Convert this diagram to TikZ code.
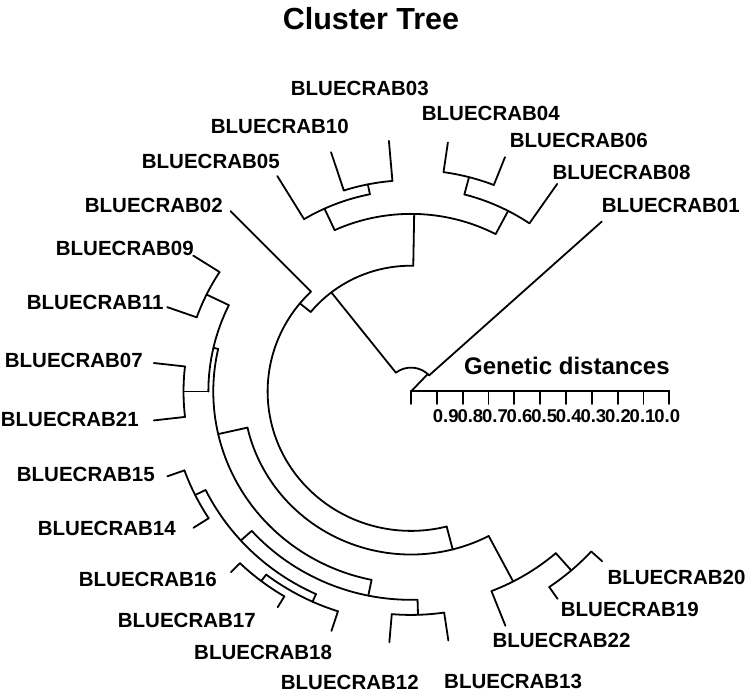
\documentclass[tikz,border=0pt]{standalone}
\usepackage{fontspec}
\setmainfont{Liberation Sans}
\newcommand{\stem}[4]{\draw (#2:#3) -- (#2:#4) coordinate (#1);}
\newcommand{\harc}[3]{\draw (#1:#3) arc[start angle=#1,end angle=#2,radius=#3];}
\begin{document}
\begin{tikzpicture}[x=1pt,y=-1pt,line width=1.8pt,line cap=round,line join=round]
\tikzset{
  lab/.style={inner sep=0pt,anchor=west,font=\fontsize{20.5}{24}\selectfont\bfseries},
  ticklab/.style={inner sep=0pt,anchor=center,font=\fontsize{18.5}{22}\selectfont\bfseries}
}
\useasboundingbox (0,0) rectangle (747,694);
\node[inner sep=0pt,font=\fontsize{30.5}{34}\selectfont\bfseries] (title) at (371,19) {Cluster Tree};
% tree
\begin{scope}[shift={(411,391.5)},x=258.8pt,y=251.6pt]
\coordinate (root) at (0,0);
\draw (root) -- (47:0.095) coordinate (rootk);
\harc{42.5}{128}{0.095}
\stem{t01}{42.5}{0.095}{1}
\stem{nA}{128}{0.095}{0.50}
\harc{89}{140.8}{0.50}
% top clade
\stem{nT}{89}{0.50}{0.706}
\harc{62.4}{114.7}{0.706}
\stem{nTR}{62.4}{0.706}{0.81}
\harc{55.6}{75.25}{0.81}
\stem{t08}{55.6}{0.81}{1}
\stem{nN2}{75.25}{0.81}{0.881}
\harc{68.7}{81.8}{0.881}
\stem{t06}{68.7}{0.881}{1}
\stem{t04}{81.8}{0.881}{1}
\stem{nTL}{114.7}{0.706}{0.80}
\harc{101.45}{121.1}{0.80}
\stem{t05}{121.1}{0.80}{1}
\stem{nN1}{101.45}{0.80}{0.84}
\harc{94.9}{108}{0.84}
\stem{t03}{94.9}{0.84}{1}
\stem{t10}{108}{0.84}{1}
% rest
\stem{nB}{140.8}{0.50}{0.554}
\harc{134.2}{284.4}{0.554}
\stem{t02}{134.2}{0.554}{1}
\stem{nX}{284.4}{0.554}{0.648}
\harc{192.8}{297.6}{0.648}
\stem{nBR}{297.6}{0.648}{0.852}
\harc{291.4}{311.05}{0.852}
\stem{t22}{291.4}{0.852}{1}
\stem{nN14}{311.05}{0.852}{0.943}
\harc{304.5}{317.6}{0.943}
\stem{t19}{304.5}{0.943}{1}
\stem{t20}{317.6}{0.943}{1}
\stem{nN6}{192.8}{0.648}{0.764}
\harc{167.2}{258.5}{0.764}
\stem{nN4}{167.2}{0.764}{0.783}
\harc{154}{180}{0.783}
\stem{nN3}{154}{0.783}{0.879}
\harc{147.3}{160.4}{0.879}
\stem{t09}{147.3}{0.879}{1}
\stem{t11}{160.4}{0.879}{1}
\stem{nN5}{180}{0.783}{0.879}
\harc{173.5}{186.6}{0.879}
\stem{t07}{173.5}{0.879}{1}
\stem{t21}{186.6}{0.879}{1}
\stem{nV}{258.5}{0.764}{0.828}
\harc{222}{271.75}{0.828}
\stem{nN9}{271.75}{0.828}{0.888}
\harc{265.2}{278.3}{0.888}
\stem{t12}{265.2}{0.888}{1}
\stem{t13}{278.3}{0.888}{1}
\stem{nN13}{222}{0.828}{0.885}
\harc{206.25}{245.5}{0.885}
\stem{nN8}{206.25}{0.885}{0.93}
\harc{199.7}{212.8}{0.93}
\stem{t15}{199.7}{0.93}{1}
\stem{t14}{212.8}{0.93}{1}
\stem{nN12}{245.5}{0.885}{0.918}
\harc{232.45}{252.1}{0.918}
\stem{t18}{252.1}{0.918}{1}
\stem{nN11}{232.45}{0.918}{0.95}
\harc{225.9}{239}{0.95}
\stem{t16}{225.9}{0.95}{1}
\stem{t17}{239}{0.95}{1}
\end{scope}
% labels
\node[lab] (l03) at (290,88) {BLUECRAB03};
\node[lab] (l04) at (421,113.5) {BLUECRAB04};
\node[lab] (l10) at (210,126.5) {BLUECRAB10};
\node[lab] (l06) at (509,140.8) {BLUECRAB06};
\node[lab] (l05) at (141,161.7) {BLUECRAB05};
\node[lab] (l08) at (551.7,172.5) {BLUECRAB08};
\node[lab] (l02) at (84,205) {BLUECRAB02};
\node[lab] (l01) at (601,205) {BLUECRAB01};
\node[lab] (l09) at (55,248) {BLUECRAB09};
\node[lab] (l11) at (26,302.5) {BLUECRAB11};
\node[lab] (l07) at (4,360.8) {BLUECRAB07};
\node[lab] (l21) at (0,419) {BLUECRAB21};
\node[lab] (l15) at (16,474) {BLUECRAB15};
\node[lab] (l14) at (37,528) {BLUECRAB14};
\node[lab] (l16) at (78,579) {BLUECRAB16};
\node[lab] (l17) at (117,620.8) {BLUECRAB17};
\node[lab] (l18) at (193.3,652.5) {BLUECRAB18};
\node[lab] (l12) at (280,682) {BLUECRAB12};
\node[lab] (l13) at (443.3,681) {BLUECRAB13};
\node[lab] (l22) at (491.7,640.8) {BLUECRAB22};
\node[lab] (l19) at (560,609) {BLUECRAB19};
\node[lab] (l20) at (606.7,577.5) {BLUECRAB20};
% scale
\node[inner sep=0pt,anchor=west,font=\fontsize{24}{28}\selectfont\bfseries] (gd) at (463.3,366) {Genetic distances};
\coordinate (ax0) at (411,391);
\coordinate (ax1) at (669.3,391);
\draw (ax0) -- (ax1);
\foreach \k in {0,...,10} {
  \draw (411+25.83*\k,391) -- (411+25.83*\k,404);
}
\foreach \v [count=\k from 0] in {0.9,0.8,0.7,0.6,0.5,0.4,0.3,0.2,0.1,0.0} {
  \node[ticklab] (tl\k) at (445.8+24.6*\k,416) {\v};
}
\end{tikzpicture}
\end{document}
